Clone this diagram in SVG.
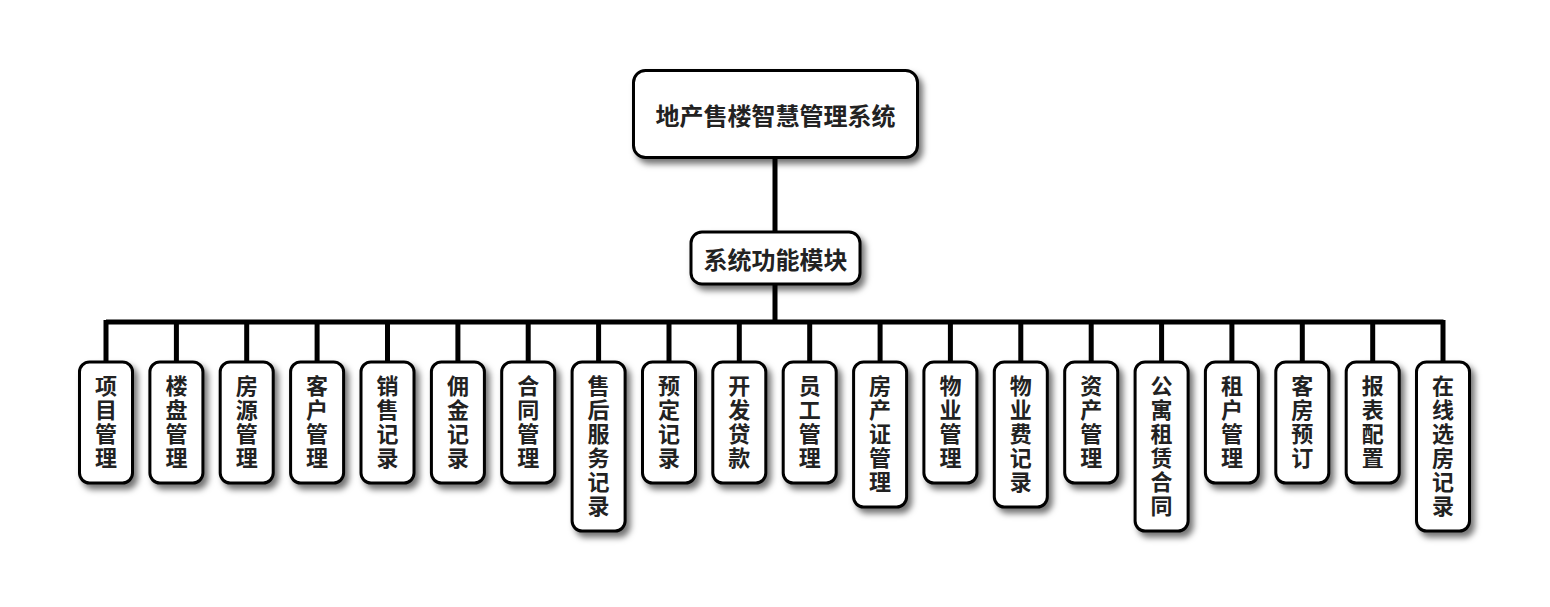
<svg xmlns="http://www.w3.org/2000/svg" width="1550" height="607" viewBox="0 0 1550 607">
<defs>
<filter id="sh" x="-30%" y="-30%" width="160%" height="160%">
<feDropShadow dx="4" dy="5" stdDeviation="3" flood-color="#000" flood-opacity="0.55"/>
</filter>
<style>
.box{fill:#fff;stroke:#000;stroke-width:3;filter:url(#sh)}
.t{font-family:"Noto Sans CJK SC","Noto Sans",sans-serif;font-weight:bold;fill:#222;text-anchor:middle;dominant-baseline:central;font-size:24px}
.v{font-family:"Noto Sans CJK SC","Noto Sans",sans-serif;font-weight:bold;fill:#222;font-size:22px;writing-mode:vertical-rl;text-orientation:upright;letter-spacing:2px;text-anchor:start}
.ln{stroke:#000;stroke-width:5;fill:none}
</style>
</defs>
<rect width="1550" height="607" fill="#fff"/>
<g id="connectors">
<path class="ln" d="M775 158V232M775 285V322M106 322H1443.5"/>
<path class="ln" d="M106 320V362M176.4 320V362M246.7 320V362M317.1 320V362M387.5 320V362M457.9 320V362M528.2 320V362M598.6 320V362M669 320V362M739.3 320V362M809.7 320V362M880.1 320V362M950.4 320V362M1020.8 320V362M1091.2 320V362M1161.6 320V362M1231.9 320V362M1302.3 320V362M1372.7 320V362M1443 320V362"/>
</g>
<g id="root"><rect class="box" x="633.5" y="70.5" width="284" height="87" rx="12"/><text class="t" x="775.5" y="114">地产售楼智慧管理系统</text></g>
<g id="module"><rect class="box" x="691" y="232" width="169" height="52" rx="11"/><text class="t" x="775.5" y="258">系统功能模块</text></g>
<g id="n1"><rect class="box" x="79.5" y="362" width="53" height="121" rx="10"/><text class="v" x="106" y="375">项目管理</text></g>
<g id="n2"><rect class="box" x="149.9" y="362" width="53" height="121" rx="10"/><text class="v" x="176.4" y="375">楼盘管理</text></g>
<g id="n3"><rect class="box" x="220.2" y="362" width="53" height="121" rx="10"/><text class="v" x="246.7" y="375">房源管理</text></g>
<g id="n4"><rect class="box" x="290.6" y="362" width="53" height="121" rx="10"/><text class="v" x="317.1" y="375">客户管理</text></g>
<g id="n5"><rect class="box" x="361" y="362" width="53" height="121" rx="10"/><text class="v" x="387.5" y="375">销售记录</text></g>
<g id="n6"><rect class="box" x="431.4" y="362" width="53" height="121" rx="10"/><text class="v" x="457.9" y="375">佣金记录</text></g>
<g id="n7"><rect class="box" x="501.7" y="362" width="53" height="121" rx="10"/><text class="v" x="528.2" y="375">合同管理</text></g>
<g id="n8"><rect class="box" x="572.1" y="362" width="53" height="169" rx="10"/><text class="v" x="598.6" y="375">售后服务记录</text></g>
<g id="n9"><rect class="box" x="642.5" y="362" width="53" height="121" rx="10"/><text class="v" x="669" y="375">预定记录</text></g>
<g id="n10"><rect class="box" x="712.8" y="362" width="53" height="121" rx="10"/><text class="v" x="739.3" y="375">开发贷款</text></g>
<g id="n11"><rect class="box" x="783.2" y="362" width="53" height="121" rx="10"/><text class="v" x="809.7" y="375">员工管理</text></g>
<g id="n12"><rect class="box" x="853.6" y="362" width="53" height="145" rx="10"/><text class="v" x="880.1" y="375">房产证管理</text></g>
<g id="n13"><rect class="box" x="923.9" y="362" width="53" height="121" rx="10"/><text class="v" x="950.4" y="375">物业管理</text></g>
<g id="n14"><rect class="box" x="994.3" y="362" width="53" height="145" rx="10"/><text class="v" x="1020.8" y="375">物业费记录</text></g>
<g id="n15"><rect class="box" x="1064.7" y="362" width="53" height="121" rx="10"/><text class="v" x="1091.2" y="375">资产管理</text></g>
<g id="n16"><rect class="box" x="1135.1" y="362" width="53" height="169" rx="10"/><text class="v" x="1161.6" y="375">公寓租赁合同</text></g>
<g id="n17"><rect class="box" x="1205.4" y="362" width="53" height="121" rx="10"/><text class="v" x="1231.9" y="375">租户管理</text></g>
<g id="n18"><rect class="box" x="1275.8" y="362" width="53" height="121" rx="10"/><text class="v" x="1302.3" y="375">客房预订</text></g>
<g id="n19"><rect class="box" x="1346.2" y="362" width="53" height="121" rx="10"/><text class="v" x="1372.7" y="375">报表配置</text></g>
<g id="n20"><rect class="box" x="1416.5" y="362" width="53" height="169" rx="10"/><text class="v" x="1443" y="375">在线选房记录</text></g>
</svg>
